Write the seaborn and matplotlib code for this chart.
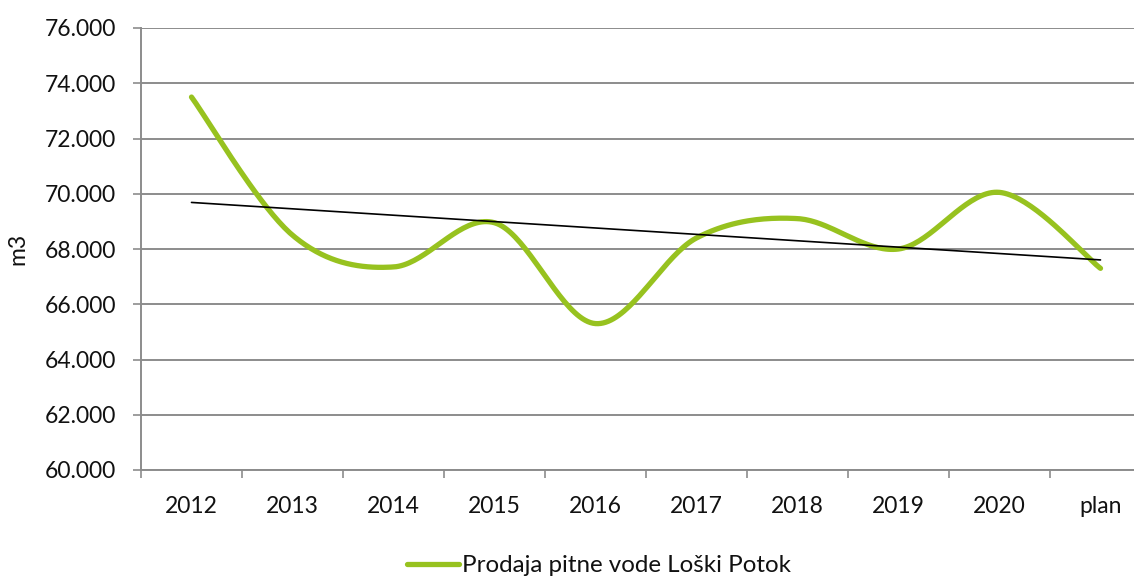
import numpy as np
import pandas as pd
import matplotlib
matplotlib.use("Agg")
import matplotlib.pyplot as plt
import seaborn as sns
from matplotlib.ticker import FuncFormatter, FixedLocator
from matplotlib.lines import Line2D

categories = ["2012", "2013", "2014", "2015", "2016", "2017", "2018", "2019", "2020", "plan"]
sales = [73500, 68500, 67350, 68950, 65300, 68400, 69100, 68000, 70050, 67300]
series_name = "Prodaja pitne vode Loški Potok"
y_label = "m3"

sns.set_theme(style="white")
plt.rcParams["font.family"] = ["Lato", "DejaVu Sans"]

GREEN = "#97C21F"
GRID = "#8C8C8C"
TXT = "#111111"
FS = 16.5

fig = plt.figure(figsize=(11.34, 5.76), dpi=100)
ax = fig.add_axes([141 / 1134, 1 - 470 / 576, 1010 / 1134, 442 / 576])

x = np.arange(len(categories), dtype=float)
y = np.array(sales, dtype=float)

# Excel-style smoothed curve (Catmull-Rom cubic Bezier between points)
def smooth(xv, yv, n=40):
    px = np.concatenate([[xv[0]], xv, [xv[-1]]])
    py = np.concatenate([[yv[0]], yv, [yv[-1]]])
    xs, ys = [], []
    for i in range(1, len(px) - 2):
        p0 = np.array([px[i], py[i]])
        p3 = np.array([px[i + 1], py[i + 1]])
        c1 = p0 + (np.array([px[i + 1], py[i + 1]]) - np.array([px[i - 1], py[i - 1]])) / 6
        c2 = p3 - (np.array([px[i + 2], py[i + 2]]) - np.array([px[i], py[i]])) / 6
        t = np.linspace(0, 1, n)[:, None]
        pts = (1 - t) ** 3 * p0 + 3 * (1 - t) ** 2 * t * c1 + 3 * (1 - t) * t ** 2 * c2 + t ** 3 * p3
        xs.append(pts[:, 0]); ys.append(pts[:, 1])
    return np.concatenate(xs), np.concatenate(ys)

sx, sy = smooth(x, y)
curve = pd.DataFrame({"x": sx, "y": sy})
sns.lineplot(data=curve, x="x", y="y", ax=ax, color=GREEN, linewidth=3.8,
             sort=False, estimator=None, solid_capstyle="round")

# linear trend line
k, b = np.polyfit(x, y, 1)
trend = pd.DataFrame({"x": x[[0, -1]], "y": k * x[[0, -1]] + b})
sns.lineplot(data=trend, x="x", y="y", ax=ax, color="black", linewidth=1.2,
             estimator=None)

ax.set_xlim(-0.5, len(categories) - 0.5)
ax.set_ylim(60000, 76000)
ax.set_yticks(np.arange(60000, 76001, 2000))
ax.yaxis.set_major_formatter(FuncFormatter(lambda v, p: f"{int(v/1000)}.000"))
ax.yaxis.grid(True, color=GRID, linewidth=1.4)
ax.xaxis.grid(False)
ax.set_axisbelow(True)

ax.set_xticks(x)
ax.set_xticklabels(categories)
ax.xaxis.set_minor_locator(FixedLocator(np.arange(-0.5, len(categories), 1.0)))
ax.tick_params(axis="x", which="major", length=0, pad=19, labelsize=FS, labelcolor=TXT)
ax.tick_params(axis="x", which="minor", length=6, width=1.2, color=GRID, direction="out", bottom=True)
ax.tick_params(axis="y", which="major", length=6, width=1.2, color=GRID, direction="out",
               left=True, pad=12, labelsize=FS, labelcolor=TXT)

for s in ["top", "right"]:
    ax.spines[s].set_visible(False)
for s in ["left", "bottom"]:
    ax.spines[s].set_color(GRID)
    ax.spines[s].set_linewidth(1.4)

ax.set_xlabel("")
ax.set_ylabel(y_label, fontsize=FS, color=TXT)
ax.yaxis.set_label_coords(-0.112, 0.5)

handle = Line2D([], [], color=GREEN, linewidth=3.8, solid_capstyle="round")
fig.legend([handle], [series_name], loc="center", bbox_to_anchor=(599 / 1134, 1 - 566 / 576),
           frameon=False, fontsize=17.4, handlelength=2.15, handletextpad=0.12,
           labelcolor=TXT)

fig.savefig("out.png", dpi=100)
